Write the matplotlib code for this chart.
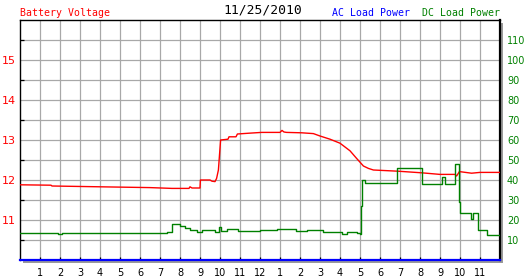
import matplotlib
matplotlib.use('Agg')
import matplotlib.pyplot as plt
from matplotlib.patches import Rectangle

# battery voltage (left axis, volts)
volt_h = [0, 1.55, 1.6, 4.0, 6.5, 7.6, 8.45, 8.5, 8.6, 9.0,
          9.02, 9.5, 9.6, 9.75, 9.83, 9.92, 10.03, 10.4, 10.45, 10.8,
          10.87, 11.45, 12.08, 13.0, 13.1, 13.2, 13.33, 14.08, 14.67, 15.0,
          15.5, 16.0, 16.5, 16.83, 17.17, 17.42, 17.67, 18.9, 20.08, 21.0,
          21.75, 21.83, 21.97, 22.58, 23.0, 24.0]
volt_v = [11.88, 11.87, 11.85, 11.83, 11.81, 11.79, 11.79, 11.83, 11.80, 11.80,
          12.0, 12.0, 11.97, 11.96, 12.04, 12.25, 13.0, 13.02, 13.08, 13.08,
          13.15, 13.17, 13.19, 13.19, 13.24, 13.2, 13.19, 13.18, 13.16, 13.1,
          13.02, 12.92, 12.73, 12.54, 12.35, 12.29, 12.25, 12.22, 12.18, 12.14,
          12.14, 12.1, 12.21, 12.17, 12.19, 12.19]

# DC load power (right axis), step values
dc_h = [0, 1.9, 2.1, 7.33, 7.58, 8.0, 8.25, 8.5, 8.83, 9.08,
        9.75, 9.97, 10.03, 10.33, 10.92, 12.0, 12.83, 13.8, 14.33, 15.17,
        16.08, 16.33, 16.83, 17.0, 17.03, 17.08, 17.25, 18.87, 20.08, 21.08,
        21.25, 21.75, 21.95, 22.0, 22.55, 22.65, 22.9, 23.33, 24.0]
dc_p = [13.5, 12.8, 13.5, 14.2, 18.0, 17.0, 15.8, 15.0, 14.2, 15.0,
        14.2, 16.7, 14.5, 15.3, 14.7, 15.0, 15.3, 14.7, 15.0, 13.8,
        13.0, 14.2, 13.3, 13.0, 27.0, 40.0, 38.5, 45.8, 38.0, 41.7,
        38.0, 48.0, 29.0, 23.3, 20.5, 23.3, 15.0, 12.7, 12.7]

# AC load power stays at zero
ac_h = [0, 24]
ac_p = [0, 0]

hour_ticks = list(range(1, 24))
hour_labels = [str(h) for h in range(1, 13)] + [str(h) for h in range(1, 12)]

W, H = 527, 280
fig = plt.figure(figsize=(W / 100, H / 100), dpi=100)
fig.patch.set_facecolor('white')
x0, y0, w, h = 20 / W, 20 / H, 480 / W, 240 / H

# drop shadow
fig.add_artist(Rectangle((x0 + 3 / W, y0 - 3 / H), w, h, transform=fig.transFigure,
                         facecolor='#9a9a9a', edgecolor='none', zorder=-1))

ax = fig.add_axes([x0, y0, w, h])
ax.set_facecolor('white')
ax.set_xlim(0, 24)
ax.set_ylim(10, 16)

ax.set_xticks(hour_ticks)
ax.set_xticklabels(hour_labels)
ax.set_xticks([h + 0.0 for h in range(1, 24)], minor=False)
ax.set_yticks([11, 12, 13, 14, 15])
ax.set_yticks([10.5, 11.5, 12.5, 13.5, 14.5, 15.5], minor=True)

for v in [10.5, 11, 11.5, 12, 12.5, 13, 13.5, 14, 14.5, 15, 15.5]:
    ax.axhline(v, color='#a8a8a8', lw=0.9, zorder=1)
for hh in hour_ticks:
    ax.axvline(hh, color='#a8a8a8', lw=0.9, zorder=1)

ax.tick_params(axis='x', direction='in', length=2.5, width=0.9, color='black',
               labelsize=7, pad=6, labelcolor='black')
ax.tick_params(axis='y', which='major', length=0, labelsize=8, pad=3,
               labelcolor='red')
ax.tick_params(axis='y', which='minor', direction='in', length=3, width=0.9,
               color='black')

for s in ['left', 'top', 'right']:
    ax.spines[s].set_color('black')
    ax.spines[s].set_linewidth(1.0)
ax.spines['right'].set_linewidth(1.6)
ax.spines['bottom'].set_visible(False)

ax.plot(volt_h, volt_v, color='red', lw=1.0, zorder=4)

ax2 = ax.twinx()
ax2.set_ylim(0, 120)
ax2.set_yticks(list(range(10, 120, 10)))
ax2.tick_params(axis='y', length=0, labelsize=7, pad=5, labelcolor='green')
for s in ax2.spines.values():
    s.set_visible(False)
ax2.plot(dc_h, dc_p, color='green', lw=1.0, drawstyle='steps-post', zorder=3)
ax2.plot(ac_h, ac_p, color='blue', lw=1.6, clip_on=False, zorder=5)

fig.text(20 / W, 1 - 13 / H, 'Battery Voltage', color='red', fontsize=7.1,
         family='DejaVu Sans Mono', va='center', ha='left')
fig.text(263 / W, 1 - 10 / H, '11/25/2010', color='black', fontsize=9.4,
         family='DejaVu Sans Mono', va='center', ha='center')
fig.text(332 / W, 1 - 13 / H, 'AC Load Power', color='blue', fontsize=7.1,
         family='DejaVu Sans Mono', va='center', ha='left')
fig.text(422 / W, 1 - 13 / H, 'DC Load Power', color='green', fontsize=7.1,
         family='DejaVu Sans Mono', va='center', ha='left')

fig.savefig('out.png', dpi=100, facecolor='white')
